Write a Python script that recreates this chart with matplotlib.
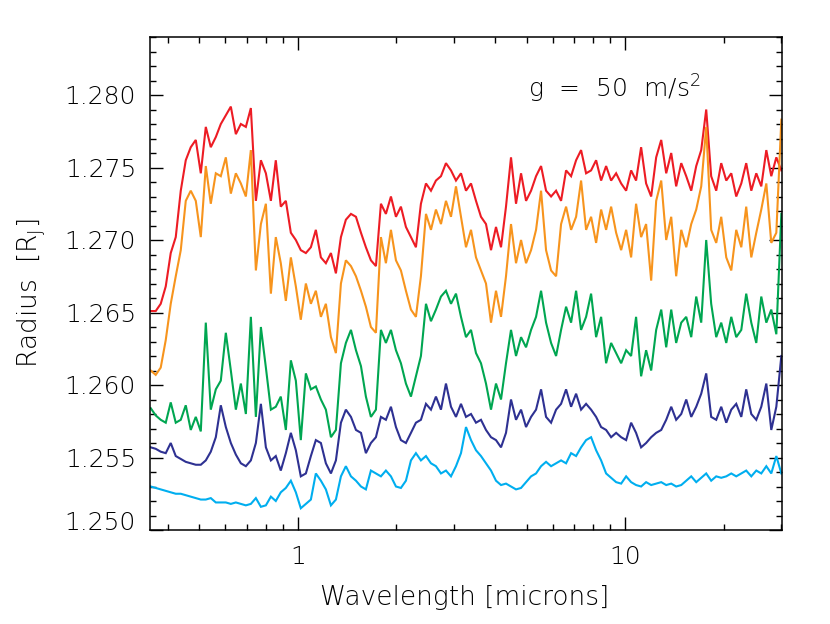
import matplotlib
matplotlib.use("Agg")
import matplotlib.pyplot as plt
from matplotlib.ticker import FixedLocator, NullFormatter
from matplotlib.transforms import ScaledTranslation

# ---------------- data ----------------
wavelength = [
    0.3552, 0.3679, 0.3811, 0.3948, 0.4089, 0.4236, 0.4388, 0.4545, 0.4708, 0.4877,
    0.5052, 0.5233, 0.5420, 0.5615, 0.5816, 0.6025, 0.6241, 0.6465, 0.6697, 0.6937,
    0.7185, 0.7443, 0.7710, 0.7986, 0.8272, 0.8563, 0.887, 0.919, 0.952, 0.986,
    1.021, 1.058, 1.096, 1.135, 1.176, 1.218, 1.262, 1.307, 1.354, 1.402,
    1.453, 1.505, 1.559, 1.614, 1.672, 1.732, 1.794, 1.858, 1.925, 1.994,
    2.065, 2.139, 2.216, 2.295, 2.377, 2.463, 2.551, 2.642, 2.737, 2.835,
    2.937, 3.042, 3.151, 3.264, 3.381, 3.502, 3.627, 3.757, 3.892, 4.031,
    4.176, 4.325, 4.480, 4.641, 4.808, 4.980, 5.159, 5.343, 5.535, 5.733,
    5.939, 6.152, 6.372, 6.600, 6.837, 7.082, 7.335, 7.598, 7.870, 8.153,
    8.445, 8.747, 9.061, 9.386, 9.723, 10.07, 10.43, 10.80, 11.19, 11.59,
    12.01, 12.44, 12.89, 13.35, 13.83, 14.32, 14.84, 15.37, 15.92, 16.49,
    17.08, 17.69, 18.32, 18.98, 19.66, 20.37, 21.10, 21.85, 22.64, 23.44,
    24.29, 25.16, 26.06, 27.00, 27.96, 28.97, 30.01,
]

radius_red = [
    1.2651, 1.2651, 1.2656, 1.2668, 1.2691, 1.2702, 1.2734, 1.2755, 1.2764, 1.2769,
    1.2746, 1.2778, 1.2764, 1.2771, 1.2780, 1.2786, 1.2792, 1.2773, 1.2780, 1.2778,
    1.2791, 1.2727, 1.2755, 1.2746, 1.2727, 1.2755, 1.2723, 1.2727, 1.2705, 1.2700,
    1.2693, 1.2691,
    1.2695, 1.2707, 1.2688, 1.2684, 1.2691, 1.2677, 1.2702, 1.2714, 1.2718, 1.2716,
    1.2705, 1.2695, 1.2686, 1.2682, 1.2725, 1.2718, 1.2730, 1.2716, 1.2723, 1.2709,
    1.2702, 1.2695, 1.2725, 1.2739, 1.2734, 1.2741, 1.2744, 1.2753, 1.2748, 1.2741,
    1.2746, 1.2734, 1.2739, 1.2727, 1.2716, 1.2711, 1.2693, 1.2709, 1.2695, 1.2723,
    1.2757, 1.2725, 1.2746, 1.2727, 1.2734, 1.2744, 1.2751, 1.2734, 1.2730, 1.2734,
    1.2727, 1.2748, 1.2744, 1.2755, 1.2762, 1.2746, 1.2748, 1.2755, 1.2741, 1.2751,
    1.2741, 1.2746,
    1.2739, 1.2734, 1.2748, 1.2741, 1.2764, 1.2739, 1.2730, 1.2757, 1.2769, 1.2746,
    1.2760, 1.2737, 1.2753, 1.2744, 1.2734, 1.2751, 1.2762, 1.2790, 1.2744, 1.2734,
    1.2753, 1.2741, 1.2746, 1.2730, 1.2739, 1.2753, 1.2734, 1.2746, 1.2737, 1.2762,
    1.2744, 1.2757, 1.2748,
]

radius_orange = [
    1.2610, 1.2607, 1.2612, 1.2631, 1.2656, 1.2675, 1.2693, 1.2727, 1.2734, 1.2727,
    1.2702, 1.2751, 1.2725, 1.2746, 1.2744, 1.2757, 1.2732, 1.2746, 1.2739, 1.2730,
    1.2762, 1.2679, 1.2711, 1.2725, 1.2663, 1.2702, 1.2684, 1.2658, 1.2688, 1.2668,
    1.2645, 1.2670,
    1.2656, 1.2665, 1.2647, 1.2656, 1.2633, 1.2622, 1.2670, 1.2686, 1.2682, 1.2675,
    1.2665, 1.2654, 1.2640, 1.2636, 1.2702, 1.2684, 1.2707, 1.2686, 1.2679, 1.2665,
    1.2652, 1.2647, 1.2675, 1.2718, 1.2707, 1.2721, 1.2711, 1.2727, 1.2716, 1.2737,
    1.2716, 1.2695, 1.2707, 1.2688, 1.2679, 1.2670, 1.2643, 1.2665, 1.2647, 1.2675,
    1.2711, 1.2684, 1.2700, 1.2684, 1.2693, 1.2707, 1.2734, 1.2693, 1.2679, 1.2675,
    1.2711, 1.2723, 1.2707, 1.2716, 1.2741, 1.2707, 1.2716, 1.2698, 1.2721, 1.2707,
    1.2723, 1.2705,
    1.2693, 1.2707, 1.2688, 1.2725, 1.2702, 1.2711, 1.2672, 1.2727, 1.2741, 1.2700,
    1.2716, 1.2675, 1.2707, 1.2695, 1.2711, 1.2721, 1.2737, 1.2778, 1.2707, 1.2698,
    1.2716, 1.2688, 1.2679, 1.2707, 1.2695, 1.2723, 1.2688, 1.2705, 1.2721, 1.2739,
    1.2698, 1.2705, 1.2783,
]

radius_green = [
    1.2584, 1.2579, 1.2576, 1.2574, 1.2588, 1.2574, 1.2576, 1.2586, 1.2569, 1.2578,
    1.2568, 1.2643, 1.2583, 1.2597, 1.2603, 1.2636, 1.2610, 1.2583, 1.2601, 1.2580,
    1.2647, 1.2578, 1.2640, 1.2612, 1.2583, 1.2585, 1.2592, 1.2569, 1.2617, 1.2603,
    1.2562, 1.2608,
    1.2597, 1.2599, 1.2590, 1.2583, 1.2564, 1.2569, 1.2615, 1.2629, 1.2638, 1.2624,
    1.2613, 1.2592, 1.2578, 1.2583, 1.2638, 1.2629, 1.2638, 1.2624, 1.2615, 1.2601,
    1.2592, 1.2606, 1.2620, 1.2656, 1.2644, 1.2652, 1.2661, 1.2665, 1.2656, 1.2663,
    1.2647, 1.2633, 1.2638, 1.2622, 1.2615, 1.2601, 1.2583, 1.2601, 1.2590, 1.2615,
    1.2638, 1.2620, 1.2633, 1.2626, 1.2638, 1.2647, 1.2665, 1.2643, 1.2629, 1.2620,
    1.2638, 1.2654, 1.2643, 1.2665, 1.2638, 1.2647, 1.2663, 1.2633, 1.2647, 1.2615,
    1.2629, 1.2622,
    1.2615, 1.2624, 1.2620, 1.2647, 1.2606, 1.2624, 1.2610, 1.2638, 1.2652, 1.2626,
    1.2652, 1.2629, 1.2643, 1.2647, 1.2633, 1.2661, 1.2643, 1.2700, 1.2656, 1.2633,
    1.2643, 1.2629, 1.2647, 1.2633, 1.2638, 1.2663, 1.2643, 1.2629, 1.2661, 1.2643,
    1.2652, 1.2635, 1.2718,
]

radius_navy = [
    1.2557, 1.2556, 1.2554, 1.2553, 1.2560, 1.2551, 1.2549, 1.2547, 1.2546, 1.2545,
    1.2545, 1.2548, 1.2554, 1.2564, 1.2586, 1.2571, 1.2560, 1.2552, 1.2546, 1.2544,
    1.2548, 1.2560, 1.2587, 1.2557, 1.2548, 1.2551, 1.2541, 1.2553, 1.2567, 1.2555,
    1.2537, 1.2539,
    1.2551, 1.2562, 1.2560, 1.2546, 1.2539, 1.2548, 1.2574, 1.2583, 1.2578, 1.2569,
    1.2567, 1.2553, 1.2560, 1.2564, 1.2578, 1.2576, 1.2585, 1.2571, 1.2562, 1.2560,
    1.2567, 1.2574, 1.2576, 1.2587, 1.2583, 1.2592, 1.2583, 1.2601, 1.2585, 1.2578,
    1.2587, 1.2578, 1.2580, 1.2574, 1.2576, 1.2569, 1.2564, 1.2562, 1.2557, 1.2567,
    1.2590, 1.2576, 1.2583, 1.2571, 1.2578, 1.2583, 1.2597, 1.2578, 1.2574, 1.2583,
    1.2587, 1.2597, 1.2585, 1.2594, 1.2583, 1.2587, 1.2583, 1.2578, 1.2571, 1.2569,
    1.2564, 1.2567,
    1.2564, 1.2562, 1.2574, 1.2567, 1.2557, 1.2560, 1.2564, 1.2567, 1.2569, 1.2576,
    1.2585, 1.2576, 1.2580, 1.2590, 1.2578, 1.2585, 1.2594, 1.2608, 1.2578, 1.2576,
    1.2585, 1.2574, 1.2583, 1.2587, 1.2578, 1.2597, 1.2580, 1.2576, 1.2585, 1.2601,
    1.2569, 1.2585, 1.2620,
]

radius_cyan = [
    1.2530, 1.2529, 1.2528, 1.2527, 1.2526, 1.2525, 1.2525, 1.2524, 1.2523, 1.2522,
    1.2521, 1.2521, 1.2522, 1.2519, 1.2519, 1.2519, 1.2518, 1.2519, 1.2518, 1.2517,
    1.2518, 1.2522, 1.2516, 1.2517, 1.2523, 1.2520, 1.2526, 1.2529, 1.2534, 1.2526,
    1.2515, 1.2518,
    1.2521, 1.2539, 1.2534, 1.2528, 1.2517, 1.2521, 1.2537, 1.2544, 1.2537, 1.2534,
    1.2530, 1.2528, 1.2541, 1.2539, 1.2537, 1.2541, 1.2537, 1.2530, 1.2529, 1.2534,
    1.2548, 1.2553, 1.2548, 1.2551, 1.2546, 1.2544, 1.2539, 1.2541, 1.2537, 1.2544,
    1.2553, 1.2571, 1.2562, 1.2555, 1.2551, 1.2546, 1.2541, 1.2534, 1.2531, 1.2532,
    1.2530, 1.2528, 1.2529, 1.2533, 1.2537, 1.2539, 1.2544, 1.2547, 1.2544, 1.2546,
    1.2548, 1.2546, 1.2553, 1.2551, 1.2557, 1.2562, 1.2564, 1.2555, 1.2548, 1.2539,
    1.2536, 1.2533,
    1.2532, 1.2537, 1.2533, 1.2531, 1.2530, 1.2533, 1.2531, 1.2532, 1.2533, 1.2531,
    1.2532, 1.2530, 1.2531, 1.2534, 1.2537, 1.2533, 1.2536, 1.2539, 1.2534, 1.2537,
    1.2536, 1.2537, 1.2539, 1.2537, 1.2539, 1.2541, 1.2537, 1.2541, 1.2539, 1.2544,
    1.2539, 1.2551, 1.2539,
]

series = [radius_red, radius_orange, radius_green, radius_navy, radius_cyan]
colors = ["#ED1C24", "#F7941D", "#00A651", "#2E3192", "#00AEEF"]

ytick_values = [1.250, 1.255, 1.260, 1.265, 1.270, 1.275, 1.280]
ytick_labels = ["1.250", "1.255", "1.260", "1.265", "1.270", "1.275", "1.280"]
xtick_values = [1, 10]
xtick_labels = ["1", "10"]
annotation = "g  =  50  m/s$^2$"

# ---------------- styling ----------------
plt.rcParams["font.family"] = ["DejaVu Sans"]
plt.rcParams["font.weight"] = "light"
plt.rcParams["axes.labelweight"] = "light"
plt.rcParams["mathtext.fontset"] = "custom"
plt.rcParams["mathtext.rm"] = "DejaVu Sans:light"
plt.rcParams["mathtext.it"] = "DejaVu Sans:light"

fig = plt.figure(figsize=(8.30, 6.24), dpi=100)
ax = fig.add_axes([150 / 830, 1 - 530 / 624, 632 / 830, 493 / 624])

for vals, c in zip(series, colors):
    ax.plot(wavelength, vals, color=c, lw=1.5, solid_joinstyle="miter")

ax.set_xscale("log")
ax.set_xlim(0.3534, 30.15)
ax.set_ylim(1.250, 1.2840)

ax.xaxis.set_major_locator(FixedLocator(xtick_values))
ax.set_xticklabels(xtick_labels)
minor_x = [0.4, 0.5, 0.6, 0.7, 0.8, 0.9, 2, 3, 4, 5, 6, 7, 8, 9, 20, 30]
ax.xaxis.set_minor_locator(FixedLocator(minor_x))
ax.xaxis.set_minor_formatter(NullFormatter())

ax.yaxis.set_major_locator(FixedLocator(ytick_values))
ax.set_yticklabels(ytick_labels)
ax.yaxis.set_minor_locator(FixedLocator([1.250 + 0.001 * k for k in range(35)]))

ax.tick_params(which="both", direction="in", top=True, right=True,
               width=1.0, color="black", labelsize=18)
ax.tick_params(which="major", length=9.5)
ax.tick_params(which="minor", length=4.5)
ax.tick_params(axis="y", pad=10)
ax.tick_params(axis="x", pad=11)
for s in ax.spines.values():
    s.set_linewidth(1.1)

ax.set_xlabel("Wavelength [microns]", fontsize=19, fontweight="light",
              va="center", ha="center")
ax.xaxis.set_label_coords((465 - 150) / 632, (530 - 597) / 493)
ax.set_ylabel("Radius  [R$_\\mathrm{J}$]", fontsize=19, fontweight="light",
              va="center", ha="center")
ax.yaxis.set_label_coords((31 - 150) / 632, (530 - 293) / 493)

ax.text((528 - 150) / 632, (530 - 98) / 493, annotation, transform=ax.transAxes,
        fontsize=18, fontweight="light", ha="left", va="baseline")

fig.canvas.draw()
for lbl in ax.get_yticklabels():
    if lbl.get_text() == "1.250":
        lbl.set_transform(lbl.get_transform() +
                          ScaledTranslation(0, 9 / 100, fig.dpi_scale_trans))

fig.savefig("out.png", dpi=100)
